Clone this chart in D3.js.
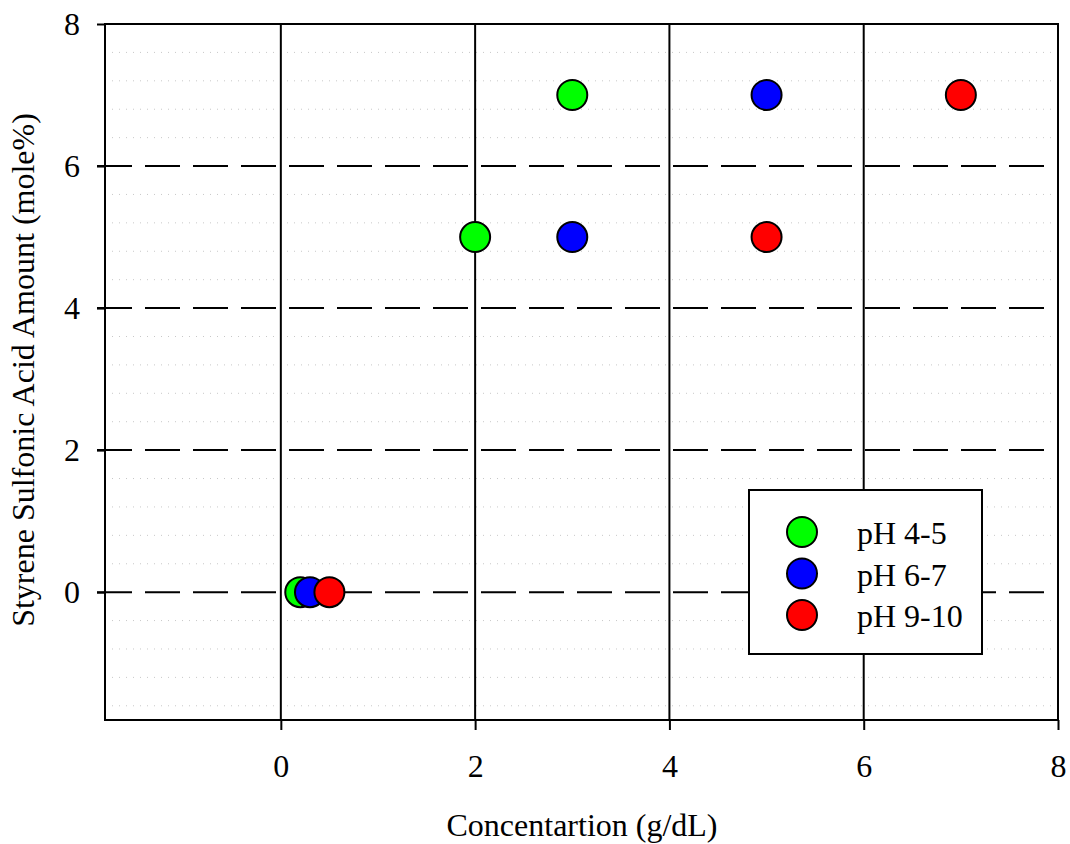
<!DOCTYPE html>
<html>
<head>
<meta charset="utf-8">
<script src="https://cdn.jsdelivr.net/npm/d3@7"></script>
<style>
  html, body { margin: 0; padding: 0; background: #fff; }
  svg { display: block; font-family: "Liberation Serif", "Times New Roman", serif; }
</style>
</head>
<body>
<svg id="chart" width="1070" height="844"></svg>
<script>
// Series: concentration (g/dL) vs styrene sulfonic acid amount (mole%)
const seriesNames = ["pH 4-5", "pH 6-7", "pH 9-10"];
const seriesColors = ["#00ff00", "#0000ff", "#ff0000"];
const seriesX = [
  [0.2, 2, 3],
  [0.3, 3, 5],
  [0.5, 5, 7]
];
const seriesY = [
  [0, 5, 7],
  [0, 5, 7],
  [0, 5, 7]
];
const xTicks = [0, 2, 4, 6, 8];
const yTicks = [0, 2, 4, 6, 8];
const yMinor = [-1.6, -1.2, -0.8, -0.4, 0.4, 0.8, 1.2, 1.6, 2.4, 2.8, 3.2, 3.6, 4.4, 4.8, 5.2, 5.6, 6.4, 6.8, 7.2, 7.6];

const svg = d3.select("#chart");
const plotLeft = 105, plotRight = 1058, plotTop = 24, plotBottom = 720;
const fontSize = "32px";

const x = d3.scaleLinear().domain([-1.81, 8]).range([plotLeft, plotRight]);
const y = d3.scaleLinear().domain([-1.8, 8]).range([plotBottom, plotTop]);

const g = svg.append("g");

// minor dotted horizontal lines
g.selectAll(".minor").data(yMinor).enter().append("line")
  .attr("x1", plotLeft).attr("x2", plotRight)
  .attr("y1", d => y(d)).attr("y2", d => y(d))
  .attr("stroke", "#c8c8c8").attr("stroke-width", 1)
  .attr("stroke-dasharray", "1,6");

// dashed major horizontal grid lines
g.selectAll(".hmajor").data(yTicks.filter(d => d < 8)).enter().append("line")
  .attr("x1", plotLeft - 8).attr("x2", plotRight)
  .attr("y1", d => y(d)).attr("y2", d => y(d))
  .attr("stroke", "#000").attr("stroke-width", 2)
  .attr("stroke-dasharray", "35,13");

// solid vertical grid lines
g.selectAll(".vmajor").data(xTicks.filter(d => d < 8)).enter().append("line")
  .attr("x1", d => x(d)).attr("x2", d => x(d))
  .attr("y1", plotTop).attr("y2", plotBottom)
  .attr("stroke", "#000").attr("stroke-width", 2);

// axes
const xAxis = d3.axisBottom(x).tickValues(xTicks).tickSize(10).tickPadding(24).tickFormat(d3.format("d"));
const yAxis = d3.axisLeft(y).tickValues(yTicks).tickSize(8).tickPadding(17).tickFormat(d3.format("d"));

const gx = svg.append("g").attr("transform", `translate(0,${plotBottom})`).call(xAxis);
const gy = svg.append("g").attr("transform", `translate(${plotLeft},0)`).call(yAxis);
[gx, gy].forEach(a => {
  a.select(".domain").remove();
  a.selectAll(".tick line").attr("stroke", "#000").attr("stroke-width", 2);
  a.selectAll(".tick text").attr("fill", "#000")
    .style("font-family", "Liberation Serif, serif").style("font-size", fontSize);
});

// frame
svg.append("rect")
  .attr("x", plotLeft).attr("y", plotTop)
  .attr("width", plotRight - plotLeft).attr("height", plotBottom - plotTop)
  .attr("fill", "none").attr("stroke", "#000").attr("stroke-width", 2);

// points
seriesNames.forEach((name, i) => {
  const pts = seriesX[i].map((v, j) => ({ x: v, y: seriesY[i][j] }));
  svg.append("g").selectAll("circle").data(pts).enter().append("circle")
    .attr("cx", d => x(d.x)).attr("cy", d => y(d.y)).attr("r", 15)
    .attr("fill", seriesColors[i]).attr("stroke", "#000").attr("stroke-width", 2);
});

// legend
const lg = svg.append("g");
lg.append("rect").attr("x", 749).attr("y", 490).attr("width", 233).attr("height", 164)
  .attr("fill", "#fff").attr("stroke", "#000").attr("stroke-width", 2);
seriesNames.forEach((name, i) => {
  const cy = 532 + i * 41.5;
  lg.append("circle").attr("cx", 802).attr("cy", cy).attr("r", 15)
    .attr("fill", seriesColors[i]).attr("stroke", "#000").attr("stroke-width", 2);
  lg.append("text").attr("x", 857).attr("y", cy + 12)
    .style("font-size", fontSize).attr("fill", "#000").text(name);
});

// axis titles
svg.append("text").attr("x", 582).attr("y", 836).attr("text-anchor", "middle")
  .style("font-size", fontSize).attr("fill", "#000").text("Concentartion (g/dL)");
svg.append("text").attr("transform", `translate(34,370) rotate(-90)`).attr("text-anchor", "middle")
  .style("font-size", fontSize).attr("fill", "#000").text("Styrene Sulfonic Acid Amount (mole%)");
</script>
</body>
</html>
